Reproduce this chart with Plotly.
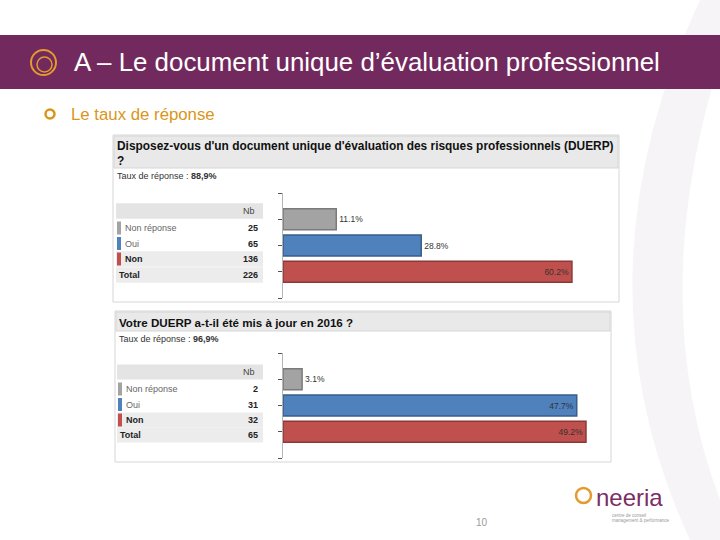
import plotly.graph_objects as go

W, H = 720, 540

# ---------------- data ----------------
categories = ["Non réponse", "Oui", "Non"]
colors = ["#a3a3a3", "#4f81bd", "#c0504d"]
edge_colors = ["#7a7a7a", "#385d8a", "#8c3836"]

q1_title = "Disposez-vous d'un document unique d'évaluation des risques professionnels (DUERP)<br>?"
q1_rate = "88,9%"
q1_counts = [25, 65, 136]
q1_total = 226
q1_pct = [11.1, 28.8, 60.2]

q2_title = "Votre DUERP a-t-il été mis à jour en 2016 ?"
q2_rate = "96,9%"
q2_counts = [2, 31, 32]
q2_total = 65
q2_pct = [3.1, 47.7, 49.2]

FONT = "Arial, Liberation Sans, sans-serif"


def px(x):
    return x / W


def py(y):
    return 1 - y / H


fig = go.Figure()
shapes = []
ann = []


def rect(x0, y0, x1, y1, fill, line=None, lw=0, layer="below"):
    shapes.append(dict(type="rect", xref="paper", yref="paper",
                       x0=px(x0), x1=px(x1), y0=py(y1), y1=py(y0),
                       fillcolor=fill, line=dict(color=line or fill, width=lw),
                       layer=layer))


def text(x, y, s, size, color="#000", anchor="left", family=FONT, yanchor="middle"):
    ann.append(dict(xref="paper", yref="paper", x=px(x), y=py(y), text=s,
                    showarrow=False, xanchor=anchor, yanchor=yanchor, align="left",
                    font=dict(size=size, color=color, family=family)))


# background swoosh
def P(x, y):
    return f"{px(x):.5f},{py(y):.5f}"


shapes.append(dict(type="path", xref="paper", yref="paper",
                   path=f"M {P(700,0)} Q {P(570,280)} {P(690,540)} L {P(720,540)} L {P(720,500)} "
                        f"Q {P(645,300)} {P(720,60)} L {P(720,0)} Z",
                   fillcolor="#f6f4f7", line=dict(width=0), layer="below"))

# header band
rect(0, 35, 720, 89, "#722a5e")
text(72, 62, "A – Le document unique d’évaluation professionnel", 25.9, "#ffffff")
# header logo (orange swirl)
shapes.append(dict(type="circle", xref="paper", yref="paper",
                   x0=px(31), x1=px(56), y0=py(75), y1=py(50),
                   line=dict(color="#e39a2e", width=2), layer="above"))
shapes.append(dict(type="circle", xref="paper", yref="paper",
                   x0=px(37), x1=px(52), y0=py(72), y1=py(57),
                   line=dict(color="#e39a2e", width=1.5), layer="above"))

# subtitle
shapes.append(dict(type="circle", xref="paper", yref="paper",
                   x0=px(45.5), x1=px(54.5), y0=py(118.5), y1=py(109.5),
                   line=dict(color="#d9961a", width=2.5), layer="above"))
text(69, 114, "Le taux de réponse", 16.8, "#d9961a")


def panel(x0, x1, top, title_bottom, bottom, title, title_size, title_lines_y, rate, rate_y,
          counts, total, table_x0, table_x1, head_y, row_ys, row_h, xaxis, yaxis,
          pct, bar_top, bar_bottom, xmax):
    rect(x0, top, x1, bottom, "#ffffff", "#d6d6d6", 1)
    rect(x0 + 1, top + 1, x1 - 1, title_bottom, "#e9e9e9", "#d6d6d6", 1)
    text(x0 + 2, title_lines_y, "<b>" + title + "</b>", title_size, "#111", yanchor="middle")
    text(x0 + 2, rate_y, "Taux de réponse : <b>" + rate + "</b>", 9, "#333")
    # table
    rect(table_x0, head_y - row_h / 2, table_x1, head_y + row_h / 2, "#e4e4e4")
    text(table_x1 - 14, head_y, "Nb", 9, "#444", anchor="center")
    for i, (cat, c) in enumerate(zip(categories, counts)):
        yc = row_ys[i]
        if i == 2:
            rect(table_x0, yc - row_h / 2, table_x1, yc + row_h / 2, "#ececec")
        rect(table_x0 + 1, yc - 6.5, table_x0 + 5, yc + 6.5, colors[i])
        label = "<b>" + cat + "</b>" if i == 2 else cat
        lcol = "#222" if i == 2 else "#666"
        text(table_x0 + 7, yc, label, 9, lcol)
        text(table_x1 - 3, yc, "<b>" + str(c) + "</b>", 9, "#222", anchor="right")
    yt = row_ys[3]
    rect(table_x0, yt - row_h / 2, table_x1, yt + row_h / 2, "#ececec")
    text(table_x0 + 1, yt, "<b>Total</b>", 9, "#222")
    text(table_x1 - 3, yt, "<b>" + str(total) + "</b>", 9, "#222", anchor="right")

    # bar chart
    tpos = ["inside" if p > 40 else "outside" for p in pct]
    fig.add_trace(go.Bar(
        x=pct, y=[1, 2, 3], orientation="h", width=0.8,
        marker=dict(color=colors, line=dict(color=edge_colors, width=1.5)),
        text=[f"{p:.1f}%" for p in pct], textposition=tpos,
        insidetextanchor="end",
        textfont=dict(size=8.5, color="#333", family=FONT),
        cliponaxis=False, xaxis=xaxis, yaxis=yaxis, showlegend=False,
        hoverinfo="skip"))
    ax = "xaxis" + xaxis[1:]
    ay = "yaxis" + yaxis[1:]
    fig.layout[ax] = dict(domain=[px(283), px(618)], range=[0, xmax], visible=False,
                          anchor=yaxis, fixedrange=True)
    fig.layout[ay] = dict(domain=[py(bar_bottom), py(bar_top)], range=[4, 0],
                          tickvals=[0, 1, 2, 3, 4], ticks="outside", ticklen=4,
                          tickcolor="#555", showticklabels=False, showline=True,
                          linecolor="#b5b5b5", linewidth=1, showgrid=False,
                          zeroline=False, anchor=xaxis, fixedrange=True)


panel(113, 619, 135, 168, 302, q1_title, 11.9, 153, q1_rate, 176,
      q1_counts, q1_total, 116, 263, 211, [228, 243.5, 259, 275], 15.5,
      "x", "y", q1_pct, 193, 298, 69.8)

panel(115, 611, 311, 331, 462, q2_title, 11.6, 322, q2_rate, 339,
      q2_counts, q2_total, 117, 263, 372, [389, 404.5, 420, 435], 15,
      "x2", "y2", q2_pct, 353, 458, 54.4)

# footer
text(482, 522, "10", 10, "#9a9a9a", anchor="center")
shapes.append(dict(type="circle", xref="paper", yref="paper",
                   x0=px(576), x1=px(591), y0=py(503), y1=py(488),
                   line=dict(color="#e39a2e", width=2.5), layer="above"))
text(594, 497, "neeria", 24, "#7b2d65", family="Arial Rounded MT Bold, Arial, Liberation Sans")
text(610, 515, "centre de conseil", 4.5, "#999")
text(610, 520, "management & performance", 4.5, "#999")

fig.update_layout(
    width=W, height=H, margin=dict(l=0, r=0, t=0, b=0),
    paper_bgcolor="#ffffff", plot_bgcolor="rgba(0,0,0,0)",
    shapes=shapes, annotations=ann, bargap=0.2,
    font=dict(family=FONT),
)

fig.write_html("out.html", config={"displayModeBar": False},
               post_script="document.body.style.margin='0';document.body.style.overflow='hidden';")
